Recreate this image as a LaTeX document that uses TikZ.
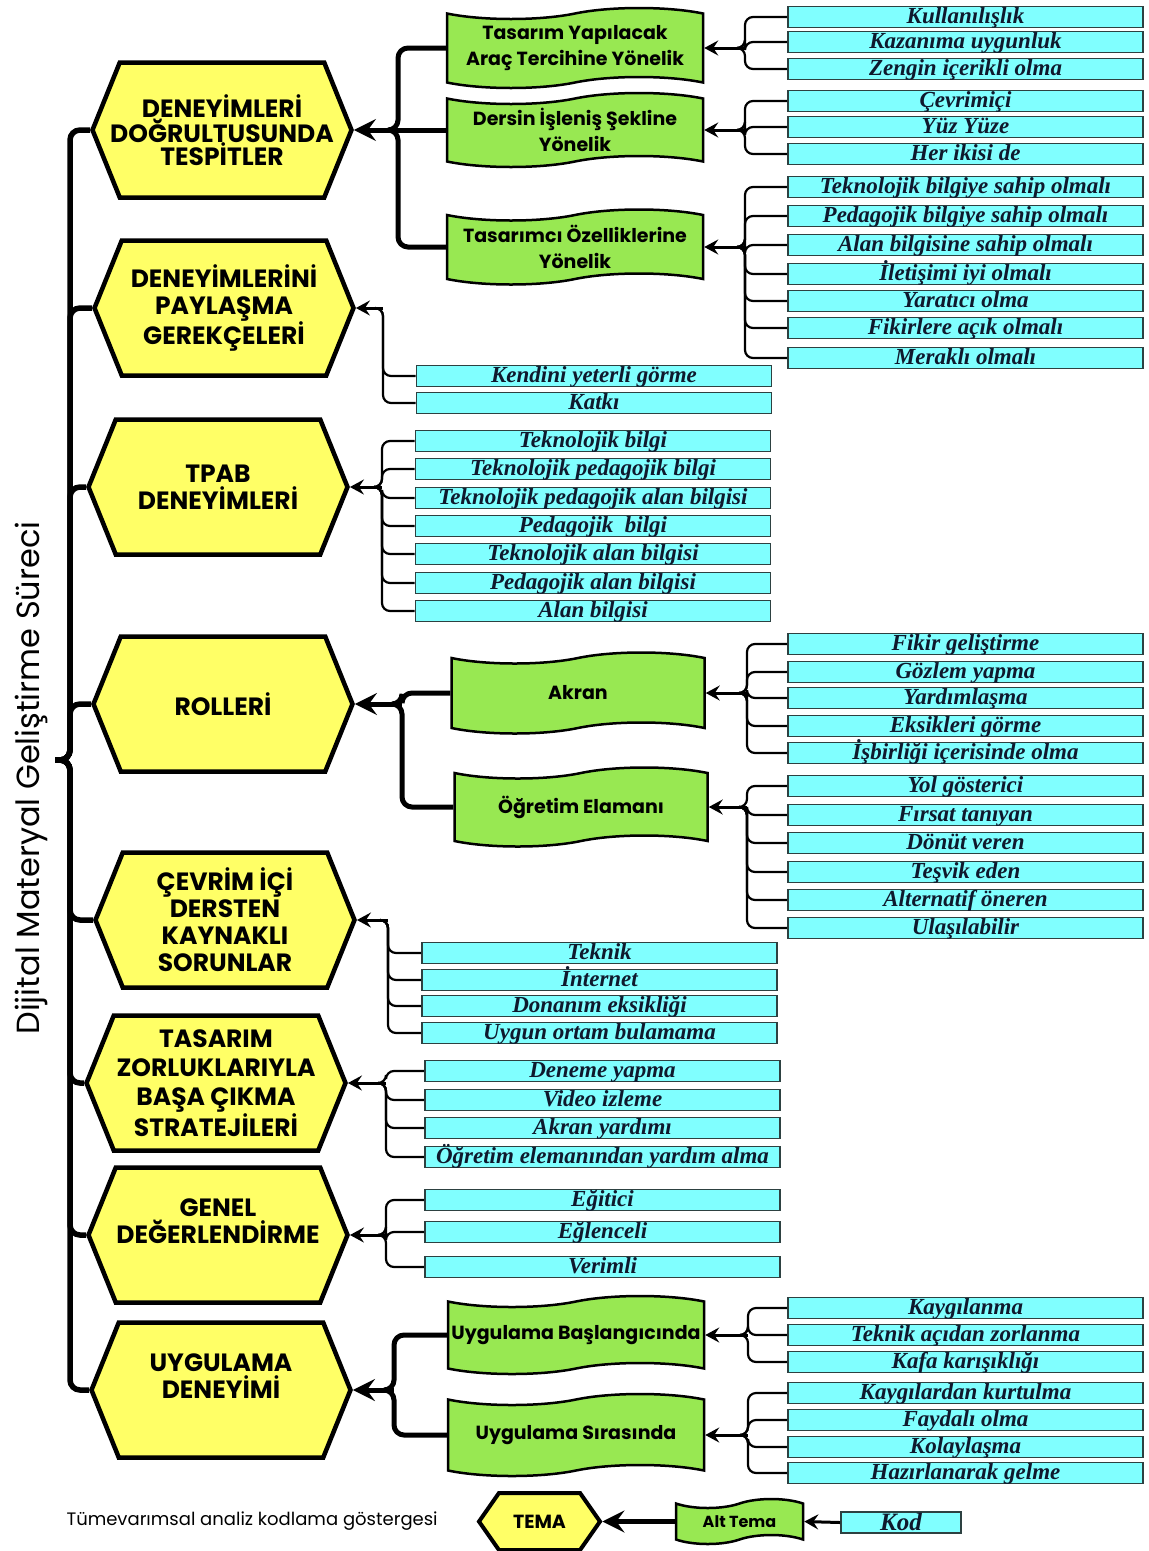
\documentclass[tikz,border=0pt]{standalone}
\usepackage{fontspec}
\usetikzlibrary{arrows.meta, shapes.symbols}
\newfontfamily\comic{Poppins}
\newfontfamily\serifit{Liberation Serif}
\definecolor{hexfill}{RGB}{255,255,102}
\definecolor{subfill}{RGB}{152,232,82}
\definecolor{codefill}{RGB}{128,255,255}
\definecolor{codeedge}{RGB}{45,65,65}
\definecolor{codetext}{RGB}{15,25,45}

\begin{document}
\begin{tikzpicture}[x=1pt, y=-1pt,
  tema/.style={signal, signal to=west and east, signal pointer angle=136, draw, line width=4.5pt,
    fill=hexfill, minimum width=259pt, minimum height=135pt, inner ysep=0pt, inner xsep=-20pt,
    align=center, font=\comic\bfseries\fontsize{25}{27}\selectfont},
  alt/.style={tape, draw, line width=2.5pt, fill=subfill, minimum width=256pt, minimum height=78pt,
    tape bend height=11pt, inner sep=0pt, align=center, font=\comic\bfseries\fontsize{19}{26}\selectfont},
  kod/.style={draw=codeedge, line width=1.8pt, fill=codefill, minimum width=355pt, minimum height=21pt,
    inner sep=0pt, text height=17pt, text depth=4pt, text=codetext,
    font=\serifit\bfseries\itshape\fontsize{23}{24}\selectfont},
  spine/.style={line width=5.5pt, rounded corners=10pt},
  trunk/.style={line width=5pt, rounded corners=10pt},
  link/.style={line width=5pt, -{Stealth[length=22pt, width=22pt, inset=8pt]}},
  brace/.style={line width=2.2pt, rounded corners=8pt},
  pull/.style={line width=3pt, -{Stealth[length=14pt, width=15pt, inset=5pt]}}]
\useasboundingbox (0,0) rectangle (1149,1551);

\node[rotate=90, font=\comic\fontsize{32}{34}\selectfont] (title) at (31,778) {Dijital Materyal Geliştirme Süreci};

% temalar
\node[tema, font=\comic\bfseries\fontsize{25}{23}\selectfont] (h1) at (222,130) {DENEYİMLERİ\\DOĞRULTUSUNDA\\TESPİTLER};
\node[tema] (h2) at (224,308) {DENEYİMLERİNİ\\PAYLAŞMA\\GEREKÇELERİ};
\node[tema] (h3) at (218,487) {TPAB\\DENEYİMLERİ};
\node[tema] (h4) at (223,704) {ROLLERİ};
\node[tema] (h5) at (225,920) {ÇEVRİM İÇİ\\DERSTEN\\KAYNAKLI\\SORUNLAR};
\node[tema, font=\comic\bfseries\fontsize{25}{29}\selectfont] (h6) at (216,1083) {TASARIM\\ZORLUKLARIYLA\\BAŞA ÇIKMA\\STRATEJİLERİ};
\node[tema] (h7) at (218,1235) {GENEL\\DEĞERLENDİRME\\\mbox{}};
\node[tema] (h8) at (221,1390) {UYGULAMA\\DENEYİMİ\\\mbox{}};

% alt temalar
\node[alt, minimum height=80pt] (g1) at (575,48) {Tasarım Yapılacak\\Araç Tercihine Yönelik};
\node[alt, minimum height=74pt] (g2) at (575,130) {Dersin İşleniş Şekline\\Yönelik};
\node[alt, minimum height=75pt] (g3) at (575,247) {Tasarımcı Özelliklerine\\Yönelik};
\node[alt, minimum height=81pt, minimum width=253pt] (ga) at (578,693) {Akran};
\node[alt, minimum height=79pt, minimum width=253pt] (gb) at (581,807) {Öğretim Elamanı};
\node[alt] (gc) at (576,1335) {Uygulama Başlangıcında};
\node[alt, minimum height=82pt] (gd) at (576,1435) {Uygulama Sırasında};

% kodlar, sag sutun
\node[kod] (k11) at (965.5,17) {Kullanılışlık};
\node[kod] (k12) at (965.5,42) {Kazanıma uygunluk};
\node[kod] (k13) at (965.5,69) {Zengin içerikli olma};
\node[kod] (k21) at (965.5,101) {Çevrimiçi};
\node[kod] (k22) at (965.5,127) {Yüz Yüze};
\node[kod] (k23) at (965.5,154) {Her ikisi de};
\node[kod] (k31) at (965.5,187) {Teknolojik bilgiye sahip olmalı};
\node[kod] (k32) at (965.5,216) {Pedagojik bilgiye sahip olmalı};
\node[kod] (k33) at (965.5,245) {Alan bilgisine sahip olmalı};
\node[kod] (k34) at (965.5,274) {İletişimi iyi olmalı};
\node[kod] (k35) at (965.5,301) {Yaratıcı olma};
\node[kod] (k36) at (965.5,328) {Fikirlere açık olmalı};
\node[kod] (k37) at (965.5,358) {Meraklı olmalı};
\node[kod] (a1) at (965.5,644) {Fikir geliştirme};
\node[kod] (a2) at (965.5,672) {Gözlem yapma};
\node[kod] (a3) at (965.5,698) {Yardımlaşma};
\node[kod] (a4) at (965.5,726) {Eksikleri görme};
\node[kod] (a5) at (965.5,753) {İşbirliği içerisinde olma};
\node[kod] (o1) at (965.5,786) {Yol gösterici};
\node[kod] (o2) at (965.5,815) {Fırsat tanıyan};
\node[kod] (o3) at (965.5,843) {Dönüt veren};
\node[kod] (o4) at (965.5,872) {Teşvik eden};
\node[kod] (o5) at (965.5,900) {Alternatif öneren};
\node[kod] (o6) at (965.5,928) {Ulaşılabilir};
\node[kod] (b1) at (965.5,1308) {Kaygılanma};
\node[kod] (b2) at (965.5,1335) {Teknik açıdan zorlanma};
\node[kod] (b3) at (965.5,1362) {Kafa karışıklığı};
\node[kod] (r1) at (965.5,1393) {Kaygılardan kurtulma};
\node[kod] (r2) at (965.5,1420) {Faydalı olma};
\node[kod] (r3) at (965.5,1447) {Kolaylaşma};
\node[kod] (r4) at (965.5,1473) {Hazırlanarak gelme};

% kodlar, orta sutun
\node[kod] (p1) at (594,376) {Kendini yeterli görme};
\node[kod] (p2) at (594,403) {Katkı};
\node[kod] (t1) at (593,441) {Teknolojik bilgi};
\node[kod] (t2) at (593,469) {Teknolojik pedagojik bilgi};
\node[kod] (t3) at (593,498) {Teknolojik pedagojik alan bilgisi};
\node[kod] (t4) at (593,526) {Pedagojik \ bilgi};
\node[kod] (t5) at (593,554) {Teknolojik alan bilgisi};
\node[kod] (t6) at (593,583) {Pedagojik alan bilgisi};
\node[kod] (t7) at (593,611) {Alan bilgisi};
\node[kod] (s1) at (599.5,953) {Teknik};
\node[kod] (s2) at (599.5,980) {İnternet};
\node[kod] (s3) at (599.5,1006) {Donanım eksikliği};
\node[kod] (s4) at (599.5,1033) {Uygun ortam bulamama};
\node[kod] (z1) at (602.5,1071) {Deneme yapma};
\node[kod] (z2) at (602.5,1100) {Video izleme};
\node[kod] (z3) at (602.5,1128) {Akran yardımı};
\node[kod] (z4) at (602.5,1157) {Öğretim elemanından yardım alma};
\node[kod] (d1) at (602.5,1200) {Eğitici};
\node[kod] (d2) at (602.5,1232) {Eğlenceli};
\node[kod] (d3) at (602.5,1267) {Verimli};

% gosterge
\node[anchor=west, font=\comic\fontsize{18}{20}\selectfont] (legtext) at (63,1521) {Tümevarımsal analiz kodlama göstergesi};
\node[tema, minimum width=121pt, minimum height=57pt, signal pointer angle=110, line width=4pt,
  font=\comic\bfseries\fontsize{19}{22}\selectfont] (legtema) at (539.5,1521.5) {TEMA};
\node[alt, minimum width=127pt, minimum height=45pt, tape bend height=9pt,
  font=\comic\bfseries\fontsize{16}{20}\selectfont] (legalt) at (739.5,1521.5) {Alt Tema};
\node[kod, minimum width=120pt, text height=17pt, text depth=2pt,
  font=\serifit\bfseries\itshape\fontsize{25}{26}\selectfont] (legkod) at (901,1522.5) {Kod};

% ana cizgi
\coordinate (sp) at (70,760);
\coordinate (tick) at (55,760);
\draw[spine] (tick) -- (sp) |- (h1.west);
\draw[spine] (tick) -- (sp) |- (h2.west);
\draw[spine] (tick) -- (sp) |- (h3.west);
\draw[spine] (tick) -- (sp) |- (h4.west);
\draw[spine] (tick) -- (sp) |- (h5.west);
\draw[spine] (tick) -- (sp) |- (h6.west);
\draw[spine] (tick) -- (sp) |- (h7.west);
\draw[spine] (tick) -- (sp) |- (h8.west);

% alt tema -> tema
\coordinate (j1) at (398,130);
\draw[trunk] (g1.west) -| (j1) -- ++(-10,0);
\draw[trunk] (g2.west) -- (j1);
\draw[trunk] (g3.west) -| (j1) -- ++(-10,0);
\draw[link] (j1) -- (h1.east);
\coordinate (j4) at (402,704);
\draw[trunk] (ga.west) -| (j4) -- ++(-10,0);
\draw[trunk] (gb.west) -| (j4) -- ++(-10,0);
\draw[link] (j4) -- (h4.east);
\coordinate (j8) at (394,1390);
\draw[trunk] (gc.west) -| (j8) -- ++(-10,0);
\draw[trunk] (gd.west) -| (j8) -- ++(-10,0);
\draw[link] (j8) -- (h8.east);

% kod -> alt tema
\coordinate (c1) at (745,48);
\draw[brace] (k11.west) -| (c1) -- ++(-8,0);
\draw[brace] (k12.west) -| (c1) -- ++(-8,0);
\draw[brace] (k13.west) -| (c1) -- ++(-8,0);
\draw[pull] (c1) -- (g1.east);
\coordinate (c2) at (745,130);
\draw[brace] (k21.west) -| (c2) -- ++(-8,0);
\draw[brace] (k22.west) -| (c2) -- ++(-8,0);
\draw[brace] (k23.west) -| (c2) -- ++(-8,0);
\draw[pull] (c2) -- (g2.east);
\coordinate (c3) at (745,247);
\draw[brace] (k31.west) -| (c3) -- ++(-8,0);
\draw[brace] (k32.west) -| (c3) -- ++(-8,0);
\draw[brace] (k33.west) -| (c3) -- ++(-8,0);
\draw[brace] (k34.west) -| (c3) -- ++(-8,0);
\draw[brace] (k35.west) -| (c3) -- ++(-8,0);
\draw[brace] (k36.west) -| (c3) -- ++(-8,0);
\draw[brace] (k37.west) -| (c3) -- ++(-8,0);
\draw[pull] (c3) -- (g3.east);
\coordinate (ca) at (747,693);
\draw[brace] (a1.west) -| (ca) -- ++(-8,0);
\draw[brace] (a2.west) -| (ca) -- ++(-8,0);
\draw[brace] (a3.west) -| (ca) -- ++(-8,0);
\draw[brace] (a4.west) -| (ca) -- ++(-8,0);
\draw[brace] (a5.west) -| (ca) -- ++(-8,0);
\draw[pull] (ca) -- (ga.east);
\coordinate (cb) at (747,807);
\draw[brace] (o1.west) -| (cb) -- ++(-8,0);
\draw[brace] (o2.west) -| (cb) -- ++(-8,0);
\draw[brace] (o3.west) -| (cb) -- ++(-8,0);
\draw[brace] (o4.west) -| (cb) -- ++(-8,0);
\draw[brace] (o5.west) -| (cb) -- ++(-8,0);
\draw[brace] (o6.west) -| (cb) -- ++(-8,0);
\draw[pull] (cb) -- (gb.east);
\coordinate (cc) at (748,1335);
\draw[brace] (b1.west) -| (cc) -- ++(-8,0);
\draw[brace] (b2.west) -| (cc) -- ++(-8,0);
\draw[brace] (b3.west) -| (cc) -- ++(-8,0);
\draw[pull] (cc) -- (gc.east);
\coordinate (cd) at (748,1435);
\draw[brace] (r1.west) -| (cd) -- ++(-8,0);
\draw[brace] (r2.west) -| (cd) -- ++(-8,0);
\draw[brace] (r3.west) -| (cd) -- ++(-8,0);
\draw[brace] (r4.west) -| (cd) -- ++(-8,0);
\draw[pull] (cd) -- (gd.east);

% kod -> tema
\coordinate (m2) at (383,308);
\draw[brace] (p1.west) -| (m2) -- ++(-8,0);
\draw[brace] (p2.west) -| (m2) -- ++(-8,0);
\draw[pull] (m2) -- (h2.east);
\coordinate (m3) at (382,487);
\draw[brace] (t1.west) -| (m3) -- ++(-8,0);
\draw[brace] (t2.west) -| (m3) -- ++(-8,0);
\draw[brace] (t3.west) -| (m3) -- ++(-8,0);
\draw[brace] (t4.west) -| (m3) -- ++(-8,0);
\draw[brace] (t5.west) -| (m3) -- ++(-8,0);
\draw[brace] (t6.west) -| (m3) -- ++(-8,0);
\draw[brace] (t7.west) -| (m3) -- ++(-8,0);
\draw[pull] (m3) -- (h3.east);
\coordinate (m5) at (388,920);
\draw[brace] (s1.west) -| (m5) -- ++(-8,0);
\draw[brace] (s2.west) -| (m5) -- ++(-8,0);
\draw[brace] (s3.west) -| (m5) -- ++(-8,0);
\draw[brace] (s4.west) -| (m5) -- ++(-8,0);
\draw[pull] (m5) -- (h5.east);
\coordinate (m6) at (386,1083);
\draw[brace] (z1.west) -| (m6) -- ++(-8,0);
\draw[brace] (z2.west) -| (m6) -- ++(-8,0);
\draw[brace] (z3.west) -| (m6) -- ++(-8,0);
\draw[brace] (z4.west) -| (m6) -- ++(-8,0);
\draw[pull] (m6) -- (h6.east);
\coordinate (m7) at (386,1235);
\draw[brace] (d1.west) -| (m7) -- ++(-8,0);
\draw[brace] (d2.west) -| (m7) -- ++(-8,0);
\draw[brace] (d3.west) -| (m7) -- ++(-8,0);
\draw[pull] (m7) -- (h7.east);

% gosterge oklari
\draw[link] (legalt.west) -- (legtema.east);
\draw[pull] (legkod.west) -- (legalt.east);
\end{tikzpicture}
\end{document}
